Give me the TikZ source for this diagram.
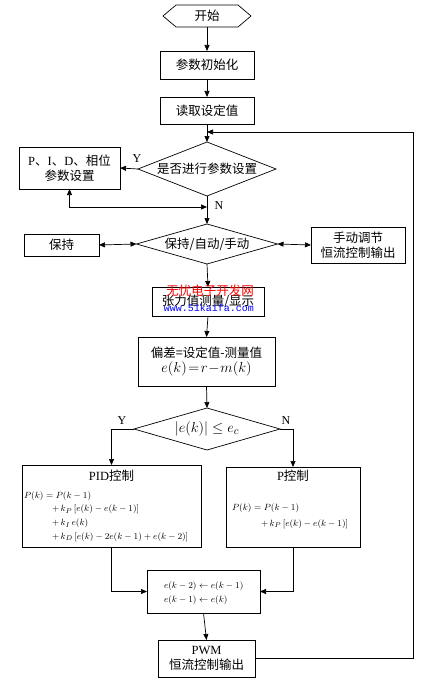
\documentclass[tikz,border=0pt]{standalone}
\usepackage[no-math]{fontspec}
\setmainfont{Noto Sans CJK SC}
\newfontfamily\ls{Liberation Serif}
\newfontfamily\lm{Liberation Mono}
\usetikzlibrary{arrows.meta}
\begin{document}
\begin{tikzpicture}[x=1pt,y=-1pt,
  every node/.style={inner sep=0pt, outer sep=0pt, font=\fontsize{12.5}{15}\selectfont},
  box/.style={draw, line width=0.7pt, minimum width=#1},
  ghost/.style={minimum width=#1},
  arr/.style={-{Triangle[length=6pt,width=5pt]}, line width=0.7pt},
  arrb/.style={{Triangle[length=6pt,width=5pt]}-{Triangle[length=6pt,width=5pt]}, line width=0.7pt},
  lbl/.style={font=\ls\fontsize{12}{14}\selectfont},
  fml/.style={font=\fontsize{9.5}{11}\selectfont, anchor=west},
  line width=0.7pt]
\useasboundingbox (0,0) rectangle (423,682);

% start hexagon
\node[ghost=88pt, minimum height=22pt] (start) at (207,16) {开始};
\draw (start.west) -- ([xshift=13pt]start.north west) -- ([xshift=-13pt]start.north east)
  -- (start.east) -- ([xshift=-13pt]start.south east) -- ([xshift=13pt]start.south west) -- cycle;

\node[box=94pt, minimum height=28pt] (init) at (207,65) {参数初始化};
\node[box=94pt, minimum height=27pt] (read) at (207,110.5) {读取设定值};

% decision 1
\node[ghost=138pt, minimum height=54pt] (d1) at (207,169) {是否进行参数设置};
\draw (d1.west) -- (d1.north) -- (d1.east) -- (d1.south) -- cycle;
\node[box=101pt, minimum height=42pt, align=center] (pidset) at (69.5,168)
  {{\ls P}、{\ls I}、{\ls D}、相位\\参数设置};

% decision 2
\node[ghost=141pt, minimum height=40pt] (d2) at (207,244) {保持/自动/手动};
\draw (d2.west) -- (d2.north) -- (d2.east) -- (d2.south) -- cycle;
\node[box=75pt, minimum height=22pt] (hold) at (61.5,245) {保持};
\node[box=94pt, minimum height=36pt, align=center] (manual) at (358,245) {手动调节\\恒流控制输出};

\node[box=112pt, minimum height=29pt] (meas) at (208,301.5) {张力值测量/显示};
\node[box=137pt, minimum height=49pt, align=center] (dev) at (206.5,361.5)
  {偏差=设定值-测量值\\[0pt]{\fontsize{13.5}{15}\selectfont$e(k)\!=\!r\!-\!m(k)$}};

% decision 3
\node[ghost=146pt, minimum height=42pt, font=\fontsize{15}{17}\selectfont] (d3) at (207,429)
  {$\bigl|e(k)\bigr|\le e_c$};
\draw (d3.west) -- (d3.north) -- (d3.east) -- (d3.south) -- cycle;

% PID box
\node[box=179pt, minimum height=82pt] (pid) at (111.5,506) {};
\node (pidt) at (111.5,476) {{\ls PID}控制};
\node[fml] (pidf1) at (24,496) {$P(k)=P(k-1)$};
\node[fml] (pidf2) at (52,509.5) {$+\,k_P\,[e(k)-e(k-1)]$};
\node[fml] (pidf3) at (52,523.5) {$+\,k_I\,e(k)$};
\node[fml] (pidf4) at (52,537) {$+\,k_D\,[e(k)-2e(k-1)+e(k-2)]$};

% P box
\node[box=134pt, minimum height=80pt] (p) at (293,507) {};
\node (pt) at (293,476) {{\ls P}控制};
\node[fml] (pf1) at (232,508) {$P(k)=P(k-1)$};
\node[fml] (pf2) at (261,524) {$+\,k_P\,[e(k)-e(k-1)]$};

% update box
\node[box=113pt, minimum height=43pt] (upd) at (203.5,591.5) {};
\node[fml] (updf1) at (164,586) {$e(k-2)\leftarrow e(k-1)$};
\node[fml] (updf2) at (164,600.5) {$e(k-1)\leftarrow e(k)$};

\node[box=97pt, minimum height=37pt, align=center] (pwm) at (206.5,658.5)
  {{\ls PWM}\\恒流控制输出};

% junction coordinates
\coordinate (j1) at (207,132);
\coordinate (j2) at (207,207);
\coordinate (lx) at (413,0);

% connectors
\draw[arr] (start.south) -- (init.north);
\draw[arr] (init.south) -- (read.north);
\draw[arr] (read.south) -- (d1.north);
\draw[arr] (d1.west) -- (pidset.east);
\draw[arrb] (pidset.south) |- (j2);
\draw[arr] (d1.south) -- (d2.north);
\draw[arrb] (hold.east) -- (d2.west);
\draw[arrb] (d2.east) -- (manual.west);
\draw[arr] (d2.south) -- (meas.north);
\draw[arr] (meas.south) -- (dev.north);
\draw[arr] (dev.south) -- (d3.north);
\draw[arr] (d3.west) -| (pid.north);
\draw[arr] (d3.east) -| (p.north);
\draw[arr] (pid.south) |- (upd.west);
\draw[arr] (p.south) |- (upd.east);
\draw[arr] (upd.south) -- (pwm.north);
\draw[arr] (pwm.east) -- (pwm.east -| lx) |- (j1);

% branch labels
\node[lbl] (y1) at (137,159) {Y};
\node[lbl] (n1) at (219,206) {N};
\node[lbl] (y3) at (122,421) {Y};
\node[lbl] (n3) at (286,421) {N};

% watermark
\node[text=red, font=\fontsize{12.5}{14}\selectfont] (wm1) at (210,291) {无忧电子开发网};
\node[text=blue, font=\lm\fontsize{10}{12}\selectfont] (wm2) at (209,308) {www.51kaifa.com};
\end{tikzpicture}
\end{document}
